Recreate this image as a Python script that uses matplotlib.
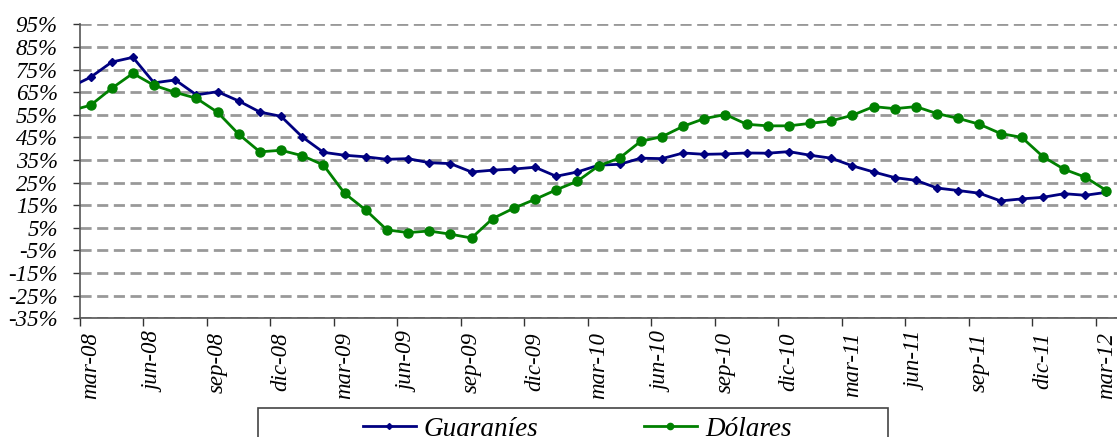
import matplotlib
matplotlib.use("Agg")
import matplotlib.pyplot as plt
from matplotlib.patches import Rectangle
from matplotlib.lines import Line2D

# Monthly data feb-08 .. mar-12 (feb-08 lies just outside the plotted range)
months = ["feb-08",
          "mar-08", "abr-08", "may-08", "jun-08", "jul-08", "ago-08", "sep-08", "oct-08", "nov-08", "dic-08",
          "ene-09", "feb-09", "mar-09", "abr-09", "may-09", "jun-09", "jul-09", "ago-09", "sep-09", "oct-09",
          "nov-09", "dic-09", "ene-10", "feb-10", "mar-10", "abr-10", "may-10", "jun-10", "jul-10", "ago-10",
          "sep-10", "oct-10", "nov-10", "dic-10", "ene-11", "feb-11", "mar-11", "abr-11", "may-11", "jun-11",
          "jul-11", "ago-11", "sep-11", "oct-11", "nov-11", "dic-11", "ene-12", "feb-12", "mar-12"]

guaranies = [67.0,
             71.6, 78.3, 80.4, 69.1, 70.4, 63.8, 65.2, 61.1, 56.2, 54.3,
             45.2, 38.4, 37.1, 36.4, 35.3, 35.6, 33.8, 33.4, 29.7, 30.5,
             31.0, 31.8, 27.8, 29.7, 32.7, 33.1, 35.8, 35.6, 38.1, 37.5,
             37.7, 38.1, 38.0, 38.7, 37.1, 35.8, 32.4, 29.7, 27.2, 26.0,
             22.6, 21.5, 20.3, 16.9, 17.8, 18.5, 20.1, 19.4, 20.7]

dolares = [56.7,
           59.2, 66.7, 73.3, 68.0, 64.9, 62.3, 56.1, 46.4, 38.6, 39.3,
           36.9, 32.8, 20.3, 12.9, 4.1, 2.9, 3.6, 2.2, 0.5, 9.1,
           13.7, 17.6, 21.8, 25.6, 32.4, 35.9, 43.3, 45.3, 49.9, 53.3,
           55.1, 50.8, 50.1, 50.1, 51.2, 52.3, 54.8, 58.6, 57.7, 58.6,
           55.5, 53.4, 50.8, 46.7, 45.0, 36.5, 30.9, 27.4, 21.5]

tick_labels = ["mar-08", "jun-08", "sep-08", "dic-08", "mar-09", "jun-09", "sep-09", "dic-09",
               "mar-10", "jun-10", "sep-10", "dic-10", "mar-11", "jun-11", "sep-11", "dic-11", "mar-12"]
y_ticks = list(range(-35, 96, 10))

FONT = "Liberation Serif"
W, H = 1117, 437
fig = plt.figure(figsize=(W / 100, H / 100), dpi=100)
ax = fig.add_axes([80 / W, 1 - 318.3 / H, (W - 80) / W, (318.3 - 24.3) / H])

x = list(range(-1, len(months) - 1))
ax.plot(x, guaranies, color="#000080", lw=2, marker="D", ms=4.5, zorder=3)
ax.plot(x, dolares, color="#008000", lw=2, marker="o", ms=6.5, zorder=3)

ax.set_xlim(-0.5, 48.5)
ax.set_ylim(-35, 95)

ax.set_yticks(y_ticks)
ax.set_yticklabels([f"{v}%" for v in y_ticks], fontsize=16.5, fontfamily=FONT, fontstyle="italic")
ax.yaxis.grid(True, color="#999999", linestyle=(0, (4, 2)), linewidth=2)
ax.set_axisbelow(True)

# category boundary ticks (major) and centred labels (minor)
label_pos = [i * 3 for i in range(len(tick_labels))]
ax.set_xticks([p - 0.5 for p in label_pos])
ax.set_xticklabels([])
ax.set_xticks(label_pos, minor=True)
ax.set_xticklabels(tick_labels, minor=True, rotation=90, fontsize=16.5,
                   fontfamily=FONT, fontstyle="italic")
ax.tick_params(axis="x", which="major", length=6, width=1, color="#333333")
ax.tick_params(axis="x", which="minor", length=0, pad=10)
ax.tick_params(axis="y", length=5, width=1, color="#333333", pad=11)

for s in ["top", "right"]:
    ax.spines[s].set_visible(False)
ax.spines["left"].set_color("#555555")
ax.spines["bottom"].set_color("#555555")
ax.spines["left"].set_linewidth(1.2)
ax.spines["bottom"].set_linewidth(1.2)

# legend frame
fig.patches.append(Rectangle((257.5 / W, 1 - 460 / H), (887.5 - 257.5) / W, (460 - 408) / H,
                             transform=fig.transFigure, fill=False, edgecolor="#444444",
                             linewidth=1.2))
handles = [Line2D([], [], color="#000080", lw=2, marker="D", ms=3),
           Line2D([], [], color="#008000", lw=2, marker="o", ms=4.5)]
fig.legend(handles, ["Guaraníes", "Dólares"], loc="center", bbox_to_anchor=(577 / W, 1 - 429 / H),
           ncol=2, frameon=False, handlelength=1.95, columnspacing=3.9, handletextpad=0.3,
           prop={"family": FONT, "style": "italic", "size": 19.5})

fig.savefig("out.png", dpi=100)
